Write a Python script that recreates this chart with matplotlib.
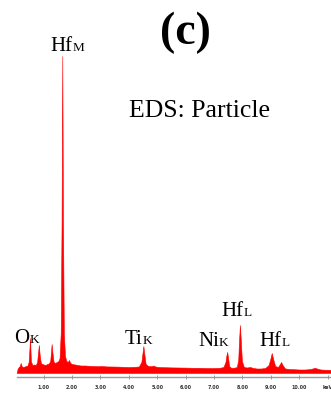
import matplotlib
matplotlib.use("Agg")
import matplotlib.pyplot as plt

# EDS spectrum of the particle, counts vs energy (keV)
energy = [0.05, 0.08, 0.12, 0.16, 0.19, 0.23, 0.28, 0.33, 0.38, 0.43, 0.47, 0.50, 0.52, 0.55,
          0.60, 0.66, 0.72, 0.77, 0.80, 0.83, 0.86, 0.90, 0.95, 1.00, 1.06, 1.12, 1.18, 1.23,
          1.26, 1.28, 1.31, 1.35, 1.40, 1.46, 1.52, 1.56, 1.60, 1.63, 1.655, 1.68, 1.71, 1.75,
          1.80, 1.85, 1.89, 1.94, 2.00, 2.10, 2.20, 2.30, 2.45, 2.60, 2.75, 2.90, 3.05, 3.20,
          3.40, 3.60, 3.80, 4.00, 4.20, 4.35, 4.44, 4.48, 4.51, 4.54, 4.59, 4.68, 4.80, 4.86,
          4.93, 5.05, 5.25, 5.50, 5.75, 6.00, 6.25, 6.50, 6.75, 7.00, 7.20, 7.33, 7.40, 7.43,
          7.46, 7.49, 7.53, 7.60, 7.70, 7.80, 7.85, 7.88, 7.91, 7.94, 7.98, 8.05, 8.15, 8.27,
          8.38, 8.50, 8.65, 8.80, 8.92, 8.98, 9.03, 9.08, 9.15, 9.25, 9.31, 9.36, 9.41, 9.50,
          9.65, 9.80, 10.00, 10.20, 10.40, 10.50, 10.55, 10.62, 10.75, 10.90, 11.05, 11.20, 11.35]
counts = [0, 40, 60, 70, 100, 65, 60, 65, 70, 75, 110, 250, 350, 120,
          80, 85, 80, 110, 200, 280, 180, 100, 90, 85, 80, 90, 95, 120,
          220, 290, 200, 110, 100, 110, 120, 150, 400, 1500, 3170, 1500, 400, 170,
          120, 110, 130, 100, 90, 85, 80, 75, 75, 72, 70, 68, 70, 66,
          65, 64, 62, 60, 62, 65, 110, 200, 270, 200, 90, 70, 68, 75,
          65, 60, 58, 56, 55, 54, 52, 52, 50, 50, 52, 60, 110, 170,
          210, 160, 70, 52, 52, 60, 130, 330, 480, 330, 120, 60, 55, 60,
          50, 45, 45, 50, 80, 140, 200, 140, 70, 60, 85, 110, 80, 45,
          40, 38, 35, 35, 40, 48, 52, 45, 35, 33, 32, 30, 30]

tick_pos = [1, 2, 3, 4, 5, 6, 7, 8, 9, 10, 11]
tick_text = ["1.00", "2.00", "3.00", "4.00", "5.00", "6.00", "7.00", "8.00", "9.00", "10.00", "keV"]

# peak labels: element, line, left x (px), baseline y (px)
peak_labels = [
    ("Hf", "M", 50, 50.7),
    ("O", "K", 14, 342.7),
    ("Ti", "K", 125, 344.5),
    ("Ni", "K", 198, 346.5),
    ("Hf", "L", 221, 316),
    ("Hf", "L", 259, 346.5),
]

W, H = 331, 418
serif = ["Liberation Serif", "DejaVu Serif"]

fig = plt.figure(figsize=(W / 100, H / 100), dpi=100)
ax_left, ax_right = 16.7, 336.2
ax_bottom, ax_top = 377, 20
ax = fig.add_axes([ax_left / W, (H - ax_bottom) / H,
                   (ax_right - ax_left) / W, (ax_bottom - ax_top) / H])

ax.fill_between(energy, 0, counts, color="#ff0000", linewidth=0.4, edgecolor="#ff0000")
ax.set_xlim(0.05, 11.3)
ax.set_ylim(-40, 3530)

for side in ["top", "left", "right"]:
    ax.spines[side].set_visible(False)
ax.spines["bottom"].set_color("#9a9a9a")
ax.spines["bottom"].set_linewidth(1.0)
ax.set_yticks([])
ax.set_xticks(tick_pos)
ax.set_xticklabels(tick_text)
ax.tick_params(axis="x", direction="inout", length=3, width=0.6, color="#8a8a8a",
               labelsize=3.5, labelcolor="#333333", pad=4.5)
for lab in ax.get_xticklabels():
    lab.set_fontweight("bold")

fig.text(185 / W, 1 - 44 / H, "(c)", family=serif, fontsize=33, fontweight="bold",
         ha="center", va="baseline")
fig.text(199.5 / W, 1 - 117 / H, "EDS: Particle", family=serif, fontsize=18.5,
         ha="center", va="baseline")

fig.canvas.draw()
renderer = fig.canvas.get_renderer()
for elem, line, x, y in peak_labels:
    t = fig.text(x / W, 1 - y / H, elem, family=serif, fontsize=15,
                 ha="left", va="baseline")
    bb = t.get_window_extent(renderer)
    fig.text(bb.x1 / W, 1 - y / H, line, family=serif, fontsize=9.5,
             ha="left", va="baseline")

fig.savefig("out.png", dpi=100)
